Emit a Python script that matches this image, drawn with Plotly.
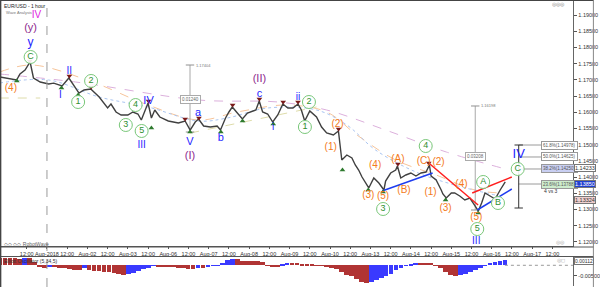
import plotly.graph_objects as go

# ---------------- data (x = trading hours since Jul-31 00:00, weekends removed) ----------------
price_hours = [-4, -1, 2, 6, 8, 11, 14, 16, 20, 25, 28, 33, 37, 43, 46, 50, 55, 58, 60, 62,
               65, 68, 72, 75, 78, 80, 84, 86, 88, 91, 96, 102, 106, 109, 112, 114, 117, 121, 125, 127,
               130, 132, 134, 137, 140, 143, 148, 150, 152, 155, 158, 161, 164, 167, 170, 173, 175, 177, 180, 184,
               187, 190, 194, 197, 199, 202, 205, 207, 209, 211, 212, 215, 218, 221, 224, 225, 228, 231, 232, 234,
               237, 240, 243, 246, 249, 251, 252, 255, 258, 259, 261, 264, 266, 269, 272, 275, 277, 280, 282, 284,
               287, 290, 293, 295, 296]
price_close = [1.17088, 1.17057, 1.17026, 1.16995, 1.17180, 1.17304, 1.17551, 1.17057, 1.16934, 1.16872,
               1.16900, 1.16810, 1.17057, 1.16594, 1.16687, 1.16718, 1.16471, 1.16286, 1.16132, 1.16255,
               1.16009, 1.15916, 1.15916, 1.16009, 1.15947, 1.15762, 1.16286, 1.15823, 1.16070, 1.15854,
               1.15731, 1.15669, 1.15731, 1.15453, 1.15700, 1.15793, 1.15577, 1.15546, 1.15577, 1.15453,
               1.15823, 1.16009, 1.16163, 1.15978, 1.15793, 1.15978, 1.16070, 1.16348, 1.16009, 1.15947,
               1.15700, 1.15916, 1.16255, 1.16132, 1.16132, 1.16255, 1.16070, 1.15731, 1.16040, 1.15854,
               1.15546, 1.15361, 1.15299, 1.15423, 1.14528, 1.14682, 1.14590, 1.14374, 1.14220, 1.14004,
               1.13911, 1.13665, 1.13973, 1.13819, 1.13603, 1.13880, 1.14127, 1.14220, 1.14343, 1.13973,
               1.14066, 1.14127, 1.14035, 1.14127, 1.14158, 1.14374, 1.14035, 1.13911, 1.13603, 1.13480,
               1.13356, 1.13510, 1.13510, 1.13418, 1.13295, 1.13356, 1.13202, 1.12956, 1.13202, 1.13510,
               1.13418, 1.13325, 1.13603, 1.13788, 1.13850]

tick_hours = [12 * k for k in range(1, 28)]
tick_labels = ["12:00", "Aug-2018", "12:00", "Aug-02", "12:00", "Aug-03", "12:00", "Aug-06", "12:00",
               "Aug-07", "12:00", "Aug-08", "12:00", "Aug-09", "12:00", "Aug-10", "12:00", "Aug-13",
               "12:00", "Aug-14", "12:00", "Aug-15", "12:00", "Aug-16", "12:00", "Aug-17", "12:00"]
price_ticks = [1.120, 1.125, 1.130, 1.135, 1.140, 1.145, 1.150, 1.155, 1.160, 1.165, 1.170, 1.175,
               1.180, 1.185, 1.190]

# moving averages (faint dashed)
ma_pink_h = [-4, 41, 114, 161, 190, 225, 261, 294]
ma_pink_v = [1.17180, 1.16934, 1.16379, 1.16317, 1.16070, 1.15453, 1.14775, 1.14281]
ma_orange_h = [-4, 15, 51, 84, 114, 137, 166, 190, 208, 231, 255, 278, 294]
ma_orange_v = [1.17242, 1.17458, 1.16934, 1.16224, 1.15762, 1.16009, 1.16224, 1.16009, 1.15299,
               1.14528, 1.14066, 1.13603, 1.13510]
ma_blue_h = [-4, 25, 55, 84, 114, 131, 155, 184, 202, 219, 243, 266, 290]
ma_blue_v = [1.16903, 1.16995, 1.16471, 1.16163, 1.15731, 1.15823, 1.16132, 1.16070, 1.15608,
             1.14837, 1.14158, 1.13757, 1.13449]
ma_khaki_h = [-4, 20, None, 109, 184]
ma_khaki_v = [1.16440, 1.16440, None, 1.15361, 1.16163]

# oscillator
osc_start, osc_step = -3.87, 2.938
osc_values = [0.00353, 0.00353, 0.00353, 0.00328, 0.00304, 0.00353, 0.00353, 0.00159, -0.00082, -0.00130,
              -0.00082, -0.00082, -0.00130, -0.00130, -0.00179, -0.00227, -0.00227, -0.00130, -0.00227, -0.00275,
              -0.00275, -0.00324, -0.00324, -0.00372, -0.00420, -0.00469, -0.00420, -0.00372, -0.00275, -0.00179,
              -0.00130, -0.00034, -0.00082, -0.00082, -0.00082, -0.00082, -0.00130, -0.00130, -0.00179, -0.00179,
              -0.00130, -0.00130, -0.00082, -0.00034, 0.00014, 0.00111, 0.00256, 0.00304, 0.00304, 0.00208,
              0.00208, 0.00208, 0.00208, 0.00159, 0.00014, -0.00082, -0.00082, 0.00063, 0.00111, 0.00111,
              0.00111, 0.00063, 0.00063, 0.00063, -0.00034, -0.00034, -0.00082, -0.00130, -0.00179, -0.00324,
              -0.00469, -0.00517, -0.00662, -0.00807, -0.00855, -0.00807, -0.00710, -0.00613, -0.00517, -0.00420,
              -0.00227, -0.00130, -0.00034, 0.00063, 0.00111, 0.00111, 0.00111, 0.00111, 0.00014, -0.00130,
              -0.00324, -0.00469, -0.00517, -0.00469, -0.00420, -0.00324, -0.00227, -0.00130, 0.00014, 0.00111,
              0.00159, 0.00208, 0.00256]

# wave labels
green_txt = ["C", "1", "2", "3", "4", "5", "1", "2", "3", "4", "5", "A", "B", "C"]
green_h = [14.3, 42.5, 50.2, 70.8, 76.6, 80.2, 177.1, 179.5, 223.5, 248.8, 279.4, 282.9, 291.7, 303.4]
green_v = [1.17705, 1.16317, 1.16965, 1.15608, 1.16224, 1.15423, 1.15546, 1.16317, 1.13017, 1.14960,
           1.12400, 1.13850, 1.13202, 1.14251]
blue_txt = ["y", "I", "II", "III", "IV", "V", "a", "b", "c", "i", "ii", "III", "IV"]
blue_h = [14.3, 32.0, 37.3, 80.2, 84.3, 108.9, 113.7, 127.2, 150.1, 158.3, 173.0, 278.8, 304.0]
blue_v = [1.18136, 1.16533, 1.17273, 1.14991, 1.16348, 1.15083, 1.15978, 1.15207, 1.16564, 1.15546,
          1.16471, 1.12000, 1.14682]
orange_txt = ["(4)", "(1)", "(2)", "(3)", "(4)", "(5)", "(A)", "(B)", "(C)", "(1)", "(2)", "(3)", "(4)", "(5)"]
orange_h = [2.6, 192.4, 196.5, 214.7, 218.8, 223.5, 232.3, 235.9, 247.6, 251.7, 256.4, 260.6, 270.0, 278.8]
orange_v = [1.16749, 1.14929, 1.15608, 1.13449, 1.14374, 1.13418, 1.14559, 1.13603, 1.14497, 1.13541,
            1.14466, 1.13048, 1.13788, 1.12770]
purple_txt = ["(y)", "(I)", "(II)"]
purple_h = [14.3, 108.9, 150.1]
purple_v = [1.18599, 1.14652, 1.17026]
magenta_txt = ["IV"]
magenta_h = [17.8]
magenta_v = [1.18970]

# swing markers
low_h = [6.1, 32.6, 42.5, 86.0, 108.9, 127.2, 140.1, 158.3, 177.1, 199.4, 214.7, 223.5, 260.6, 279.9]
low_v = [1.16964, 1.16749, 1.16533, 1.15515, 1.15392, 1.15392, 1.15731, 1.15639, 1.15639, 1.14220,
         1.13603, 1.13541, 1.13295, 1.12894]
high_h = [13.8, 37.3, 50.2, 84.3, 106.0, 114.2, 134.2, 150.1, 164.2, 173.0, 197.1, 232.3, 250.6]
high_v = [1.17581, 1.17119, 1.16779, 1.16348, 1.15793, 1.15823, 1.16224, 1.16409, 1.16317, 1.16317,
          1.15484, 1.14405, 1.14436]

# trend lines
red_lines = [([250.6, 279.9], [1.14436, 1.13140]), ([276.4, 299.9], [1.13510, 1.14004])]
blue_lines = [([222.9, 252.9], [1.13572, 1.14127]), ([279.4, 299.9], [1.12986, 1.13634])]

# measurement tools
meas_h = [108.9, 278.2]
meas_top = [1.17458, 1.16194]
meas_bot = [1.15392, 1.12986]
meas_box_v = [1.16379, 1.14621]
meas_box_txt = ["0.01240", "0.03208"]
meas_top_txt = ["1.17404", "1.16198"]

fib_h = 304.0
fib_top, fib_bot = 1.14991, 1.13048
fib_levels = [1.14991, 1.14621, 1.14251, 1.13788]
fib_txt = ["61.8%(1.14978)", "50.0%(1.14625)", "38.2%(1.14250)", "23.6%(1.13788)"]
fib_fill = ["#ffffff", "#ffffff", "#c9cff2", "#cdeccd"]

FONT = "Liberation Sans, Arial, sans-serif"
GREEN_T, GREEN_C = "#2f8f2f", "#79c779"
BLUE, ORANGE, PURPLE, MAGENTA = "#1f1fff", "#f47a20", "#8e2a8e", "#e024e0"

fig = go.Figure()

XR = [-3.87, 336.35]

# moving averages
for h, v, c, d in [(ma_pink_h, ma_pink_v, "#dcb0dc", "dash"),
                   (ma_orange_h, ma_orange_v, "#f6c49a", "dash"),
                   (ma_blue_h, ma_blue_v, "#a9c4f0", "dot"),
                   (ma_khaki_h, ma_khaki_v, "#dedcaa", "dash")]:
    fig.add_trace(go.Scatter(x=h, y=v, mode="lines", line=dict(color=c, width=1, dash=d, shape="spline"),
                             hoverinfo="skip", showlegend=False))

# measurement tools
for h, t, b in zip(meas_h, meas_top, meas_bot):
    fig.add_trace(go.Scatter(x=[h, h], y=[t, b], mode="lines", line=dict(color="#a8a8a8", width=1),
                             showlegend=False, hoverinfo="skip"))
    for yv in (t, b):
        fig.add_trace(go.Scatter(x=[h - 2.5, h + 2.5], y=[yv, yv], mode="lines",
                                 line=dict(color="#909090", width=1), showlegend=False, hoverinfo="skip"))

# fib tool
for lv in fib_levels:
    fig.add_trace(go.Scatter(x=[fib_h, fib_h + 13.5], y=[lv, lv], mode="lines",
                             line=dict(color="#9a9a9a", width=1), showlegend=False, hoverinfo="skip"))
fig.add_trace(go.Scatter(x=[fib_h, fib_h], y=[fib_top, fib_bot], mode="lines",
                         line=dict(color="#333333", width=1), showlegend=False, hoverinfo="skip"))
for yv in (fib_top, fib_bot):
    fig.add_trace(go.Scatter(x=[fib_h - 2.5, fib_h + 2.5], y=[yv, yv], mode="lines",
                             line=dict(color="#333333", width=1), showlegend=False, hoverinfo="skip"))

# price
fig.add_trace(go.Scatter(x=price_hours, y=price_close, mode="lines",
                         line=dict(color="#404040", width=1.4), showlegend=False, hoverinfo="skip"))

# trend lines
for h, v in red_lines:
    fig.add_trace(go.Scatter(x=h, y=v, mode="lines", line=dict(color="#ff1e1e", width=1.5),
                             showlegend=False, hoverinfo="skip"))
for h, v in blue_lines:
    fig.add_trace(go.Scatter(x=h, y=v, mode="lines", line=dict(color="#1e3cf0", width=1.5),
                             showlegend=False, hoverinfo="skip"))

# swing markers
fig.add_trace(go.Scatter(x=low_h, y=low_v, mode="markers",
                         marker=dict(symbol="triangle-up", size=5, color="#2e7a2e"),
                         showlegend=False, hoverinfo="skip"))
fig.add_trace(go.Scatter(x=high_h, y=high_v, mode="markers",
                         marker=dict(symbol="triangle-down", size=5, color="#7a1a1a"),
                         showlegend=False, hoverinfo="skip"))

# wave labels
fig.add_trace(go.Scatter(x=green_h, y=green_v, mode="markers+text", text=green_txt,
                         textposition="middle center",
                         textfont=dict(color=GREEN_T, size=9, family=FONT),
                         marker=dict(symbol="circle", size=13, color="rgba(255,255,255,0.9)",
                                     line=dict(color=GREEN_C, width=1)),
                         showlegend=False, hoverinfo="skip"))
blue_sizes = [12, 10, 10, 10, 11, 11, 11, 11, 11, 10, 10, 10, 13]
fig.add_trace(go.Scatter(x=blue_h, y=blue_v, mode="text", text=blue_txt, textposition="middle center",
                         textfont=dict(color=BLUE, size=blue_sizes, family=FONT),
                         showlegend=False, hoverinfo="skip"))
fig.add_trace(go.Scatter(x=orange_h, y=orange_v, mode="text", text=orange_txt, textposition="middle center",
                         textfont=dict(color=ORANGE, size=10, family=FONT),
                         showlegend=False, hoverinfo="skip"))
fig.add_trace(go.Scatter(x=purple_h, y=purple_v, mode="text", text=purple_txt, textposition="middle center",
                         textfont=dict(color=PURPLE, size=11, family=FONT),
                         showlegend=False, hoverinfo="skip"))
fig.add_trace(go.Scatter(x=magenta_h, y=magenta_v, mode="text", text=magenta_txt, textposition="middle center",
                         textfont=dict(color=MAGENTA, size=10, family=FONT),
                         showlegend=False, hoverinfo="skip"))

# oscillator
osc_h = [osc_start + osc_step * i for i in range(len(osc_values))]
osc_colors = []
for i, v in enumerate(osc_values):
    prev = osc_values[i - 1] if i > 0 else v
    osc_colors.append("#3a3aff" if v > prev else "#b03434")
fig.add_trace(go.Bar(x=osc_h, y=osc_values, marker=dict(color=osc_colors, line=dict(width=0)),
                     width=osc_step * 0.95, xaxis="x2", yaxis="y2", showlegend=False, hoverinfo="skip"))
fig.add_trace(go.Scatter(x=[osc_h[-1], XR[1]], y=[0, 0], mode="lines", xaxis="x2", yaxis="y2",
                         line=dict(color="#999999", width=1, dash="dot"), showlegend=False, hoverinfo="skip"))

ann = []
# measurement box labels
for h, v, t, tt, top in zip(meas_h, meas_box_v, meas_box_txt, meas_top_txt, meas_top):
    ann.append(dict(x=h, y=v, xref="x", yref="y", text=t, showarrow=False,
                    font=dict(size=4.5, color="#666", family=FONT), bgcolor="#ffffff",
                    bordercolor="#aaaaaa", borderwidth=1, borderpad=1))
    ann.append(dict(x=h + 2.5, y=top, xref="x", yref="y", text=tt, showarrow=False, xanchor="left",
                    font=dict(size=4, color="#777", family=FONT)))
for lv, t, f in zip(fib_levels, fib_txt, fib_fill):
    ann.append(dict(x=fib_h + 13.5, y=lv, xref="x", yref="y", text=t, showarrow=False, xanchor="left",
                    font=dict(size=4.5, color="#555", family=FONT), bgcolor=f,
                    bordercolor="#999999", borderwidth=1, borderpad=1))
ann.append(dict(x=323.4, y=1.13572, xref="x", yref="y", text="4 vs 3", showarrow=False,
                font=dict(size=5, color="#333", family=FONT)))
# header texts
ann.append(dict(x=0.004, y=0.997, xref="paper", yref="paper", text="EUR/USD - 1 hour", showarrow=False,
                xanchor="left", yanchor="top", font=dict(size=5, color="#222", family=FONT)))
ann.append(dict(x=0.006, y=0.972, xref="paper", yref="paper", text="Wave Analysis", showarrow=False,
                xanchor="left", yanchor="top", font=dict(size=4, color="#777", family=FONT)))
ann.append(dict(x=0.004, y=1 - 244 / 287, xref="paper", yref="paper", text="◇◇ ◇◇ RobotWave",
                showarrow=False, xanchor="left", yanchor="middle", font=dict(size=5, color="#666", family=FONT)))
ann.append(dict(x=0.004, y=1 - 261 / 287, xref="paper", yref="paper", text="Elliott Oscillator (5,34,5)",
                showarrow=False, xanchor="left", yanchor="middle", font=dict(size=5, color="#333", family=FONT)))
ann.append(dict(x=0.955, y=0.985, xref="paper", yref="paper", text="◎◎◎", showarrow=False,
                xanchor="right", yanchor="middle", font=dict(size=5, color="#888", family=FONT)))
ann.append(dict(x=0.955, y=1 - 242 / 287, xref="paper", yref="paper", text="◎◎", showarrow=False,
                xanchor="right", yanchor="middle", font=dict(size=5, color="#aaa", family=FONT)))
ann.append(dict(x=0.955, y=1 - 260 / 287, xref="paper", yref="paper", text="◎◻", showarrow=False,
                xanchor="right", yanchor="middle", font=dict(size=5, color="#aaa", family=FONT)))
# right axis value boxes
for py, t, bg, fc in [(168, "1.14233", "#ffffff", "#333"),
                      (184, "1.13850", "#2040d0", "#ffffff"),
                      (200, "1.13324", "#f0d0d0", "#333")]:
    ann.append(dict(x=0.967, y=1 - py / 287, xref="paper", yref="paper", text=t, showarrow=False,
                    xanchor="left", yanchor="middle", font=dict(size=5.5, color=fc, family=FONT),
                    bgcolor=bg, bordercolor="#777777", borderwidth=1, borderpad=0))
ann.append(dict(x=0.967, y=1 - 261 / 287, xref="paper", yref="paper", text="0.00112", showarrow=False,
                xanchor="left", yanchor="middle", font=dict(size=5, color="#333", family=FONT),
                bgcolor="#ffffff", bordercolor="#777777", borderwidth=1, borderpad=0))

shapes = [
    dict(type="line", xref="x", yref="paper", x0=24, x1=24, y0=0, y1=1,
         line=dict(color="#9a9a9a", width=1, dash="dash")),
    dict(type="line", xref="paper", yref="paper", x0=0, x1=1, y0=1 - 247 / 287, y1=1 - 247 / 287,
         line=dict(color="#555555", width=1)),
    dict(type="line", xref="paper", yref="paper", x0=0, x1=1, y0=1 - 256.5 / 287, y1=1 - 256.5 / 287,
         line=dict(color="#555555", width=1)),
    dict(type="line", xref="paper", yref="paper", x0=0, x1=1, y0=0.999, y1=0.999,
         line=dict(color="#444444", width=1.5)),
    dict(type="line", xref="paper", yref="paper", x0=0.001, x1=0.001, y0=0, y1=1,
         line=dict(color="#444444", width=1.5)),
    dict(type="line", xref="paper", yref="paper", x0=0.999, x1=0.999, y0=0, y1=1,
         line=dict(color="#888888", width=1)),
]

fig.update_layout(
    width=600, height=287, margin=dict(l=0, r=0, t=0, b=0),
    paper_bgcolor="white", plot_bgcolor="white", showlegend=False,
    font=dict(family=FONT, size=6, color="#333"),
    xaxis=dict(domain=[0, 0.965], range=XR, anchor="y", tickvals=tick_hours, ticktext=tick_labels,
               tickangle=0, showgrid=False, zeroline=False, showline=True, linecolor="#555",
               ticks="outside", ticklen=2, tickcolor="#555",
               tickfont=dict(size=5.5, color="#333", family=FONT)),
    yaxis=dict(domain=[1 - 246 / 287, 1 - 1 / 287], range=[1.11876, 1.19432], side="right", anchor="x",
               tickvals=price_ticks, ticktext=[f"{p:.5f}" for p in price_ticks], showgrid=False,
               zeroline=False, showline=True, linecolor="#666", ticks="outside", ticklen=3,
               tickcolor="#555", tickfont=dict(size=5.5, color="#333", family=FONT)),
    xaxis2=dict(domain=[0, 0.965], range=XR, anchor="y2", matches="x", showticklabels=False,
                showgrid=False, zeroline=False, ticks=""),
    yaxis2=dict(domain=[1 / 287, 1 - 257 / 287], range=[-0.010, 0.004], side="right", anchor="x2",
                tickvals=[-0.005], ticktext=["-0.00500"], showgrid=False, zeroline=False,
                showline=True, linecolor="#666", ticks="outside", ticklen=3, tickcolor="#555",
                tickfont=dict(size=5.5, color="#333", family=FONT)),
    bargap=0, annotations=ann, shapes=shapes,
)

fig.write_html("out.html")
